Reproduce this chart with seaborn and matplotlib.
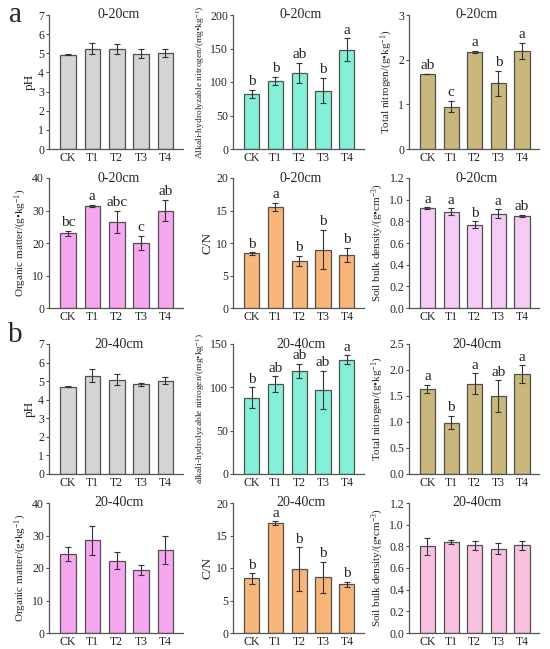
import numpy as np
import pandas as pd
import matplotlib
matplotlib.use("Agg")
import matplotlib.pyplot as plt
import seaborn as sns

sns.set_style("white")
plt.rcParams['font.family'] = ['Liberation Serif', 'DejaVu Serif']
plt.rcParams['mathtext.fontset'] = 'custom'
plt.rcParams['mathtext.rm'] = 'Liberation Serif'
plt.rcParams['mathtext.it'] = 'Liberation Serif:italic'

categories = ["CK", "T1", "T2", "T3", "T4"]

# ---- 0-20 cm ----
ph_a = [4.93, 5.25, 5.22, 4.97, 5.03]
ph_a_sd = [0.03, 0.28, 0.25, 0.23, 0.20]
an_a = [82, 102, 114, 87, 148]
an_a_sd = [6, 6, 15, 19, 17]
an_a_let = ["b", "b", "ab", "b", "a"]
tn_a = [1.68, 0.95, 2.17, 1.47, 2.20]
tn_a_sd = [0.01, 0.13, 0.03, 0.28, 0.18]
tn_a_let = ["ab", "c", "a", "b", "a"]
om_a = [23.0, 31.5, 26.5, 20.0, 30.0]
om_a_sd = [0.7, 0.3, 3.4, 2.3, 3.3]
om_a_let = ["bc", "a", "abc", "c", "ab"]
cn_a = [8.4, 15.6, 7.2, 9.0, 8.2]
cn_a_sd = [0.2, 0.6, 0.8, 3.0, 1.1]
cn_a_let = ["b", "a", "b", "b", "b"]
bd_a = [0.92, 0.89, 0.77, 0.87, 0.85]
bd_a_sd = [0.01, 0.03, 0.03, 0.04, 0.01]
bd_a_let = ["a", "a", "b", "a", "ab"]

# ---- 20-40 cm ----
ph_b = [4.70, 5.30, 5.07, 4.82, 5.02]
ph_b_sd = [0.02, 0.37, 0.30, 0.08, 0.20]
an_b = [88, 104, 119, 97, 132]
an_b_sd = [12, 9, 8, 22, 5]
an_b_let = ["b", "ab", "ab", "ab", "a"]
tn_b = [1.64, 0.99, 1.74, 1.50, 1.92]
tn_b_sd = [0.08, 0.13, 0.20, 0.30, 0.17]
tn_b_let = ["a", "b", "a", "ab", "a"]
om_b = [24.3, 28.5, 22.3, 19.4, 25.6]
om_b_sd = [2.2, 4.5, 2.7, 1.5, 4.3]
cn_b = [8.4, 16.9, 9.8, 8.6, 7.5]
cn_b_sd = [0.8, 0.3, 3.4, 2.4, 0.4]
cn_b_let = ["b", "a", "b", "b", "b"]
bd_b = [0.80, 0.84, 0.81, 0.78, 0.81]
bd_b_sd = [0.08, 0.02, 0.04, 0.05, 0.04]

fig = plt.figure(figsize=(5.5, 6.49), dpi=100)
W, H = 550, 649

col_left = [49, 233, 409]
col_w = [134, 131, 130]
row_top = [15, 178, 344, 503]
row_h = [134, 130, 130, 130]

EDGE = "#505050"

def panel(r, c, vals, sds, color, ylabel, ylim, yticks, title, letters=None,
          fmt=None, ylabel_size=8):
    left = col_left[c] / W
    bottom = 1 - (row_top[r] + row_h[r]) / H
    ax = fig.add_axes([left, bottom, col_w[c] / W, row_h[r] / H])
    df = pd.DataFrame({"cat": categories, "val": vals})
    sns.barplot(data=df, x="cat", y="val", color=color, saturation=1,
                edgecolor=EDGE, linewidth=0.9, width=0.64, ax=ax)
    ax.errorbar(np.arange(len(categories)), vals, yerr=sds, fmt="none",
                ecolor="#333333", elinewidth=0.8, capsize=2.0, capthick=0.8)
    ax.set_xlim(-0.78, 4.72)
    ax.set_ylim(*ylim)
    ax.set_yticks(yticks)
    if fmt:
        ax.set_yticklabels([fmt.format(t) for t in yticks])
    ax.set_xlabel("")
    ax.set_ylabel(ylabel, fontsize=ylabel_size, labelpad=2)
    for s in ["top", "right"]:
        ax.spines[s].set_visible(False)
    for s in ["left", "bottom"]:
        ax.spines[s].set_color("#555555")
        ax.spines[s].set_linewidth(0.9)
    ax.tick_params(axis="y", direction="out", length=2.5, width=0.8,
                   labelsize=8.5, pad=1, color="#555555", left=True)
    ax.tick_params(axis="x", length=0, labelsize=8.5, pad=2)
    ax.text(0.52, 1.0, title, transform=ax.transAxes, ha="center",
            va="center", fontsize=10)
    if letters:
        off = (ylim[1] - ylim[0]) * 0.012
        for i, (v, s, l) in enumerate(zip(vals, sds, letters)):
            ax.text(i, v + s + off, l, ha="center", va="bottom", fontsize=11)
    return ax

GRAY = "#d4d4d4"
AQUA = "#84f0d8"
TAN = "#c9b77b"
PINK = "#f6a6ee"
ORANGE = "#f8b57a"
LAV = "#f6cbf6"
PINK2 = "#f9c2e1"

kg = r"$^{-1}$"
panel(0, 0, ph_a, ph_a_sd, GRAY, "pH", (0, 7), range(0, 8), "0-20cm",
      ylabel_size=9.5)
panel(0, 1, an_a, an_a_sd, AQUA, "Alkali-hydrolyzable nitrogen/(mg•kg" + kg + ")",
      (0, 200), range(0, 201, 50), "0-20cm", an_a_let, ylabel_size=6.8)
panel(0, 2, tn_a, tn_a_sd, TAN, "Total nitrogen/(g•kg" + kg + ")",
      (0, 3), range(0, 4), "0-20cm", tn_a_let)
panel(1, 0, om_a, om_a_sd, PINK, "Organic matter/(g•kg" + kg + ")",
      (0, 40), range(0, 41, 10), "0-20cm", om_a_let)
panel(1, 1, cn_a, cn_a_sd, ORANGE, "C/N", (0, 20), range(0, 21, 5),
      "0-20cm", cn_a_let, ylabel_size=9.5)
panel(1, 2, bd_a, bd_a_sd, LAV, "Soil bulk density/(g•cm" + r"$^{-3}$" + ")",
      (0, 1.2), np.arange(0, 1.21, 0.2), "0-20cm", bd_a_let, fmt="{:.1f}")

panel(2, 0, ph_b, ph_b_sd, GRAY, "pH", (0, 7), range(0, 8), "20-40cm",
      ylabel_size=9.5)
panel(2, 1, an_b, an_b_sd, AQUA, "alkali-hydrolyzable nitrogen/(mg•kg" + kg + ")",
      (0, 150), range(0, 151, 50), "20-40cm", an_b_let, ylabel_size=6.8)
panel(2, 2, tn_b, tn_b_sd, TAN, "Total nitrogen/(g•kg" + kg + ")",
      (0, 2.5), np.arange(0, 2.51, 0.5), "20-40cm", tn_b_let, fmt="{:.1f}")
panel(3, 0, om_b, om_b_sd, PINK, "Organic matter/(g•kg" + kg + ")",
      (0, 40), range(0, 41, 10), "20-40cm")
panel(3, 1, cn_b, cn_b_sd, ORANGE, "C/N", (0, 20), range(0, 21, 5),
      "20-40cm", cn_b_let, ylabel_size=9.5)
panel(3, 2, bd_b, bd_b_sd, PINK2, "Soil bulk density/(g•cm" + r"$^{-3}$" + ")",
      (0, 1.2), np.arange(0, 1.21, 0.2), "20-40cm", fmt="{:.1f}")

fig.text(15 / W, 1 - 15 / H, "a", fontsize=21, ha="center", va="center")
fig.text(15 / W, 1 - 335 / H, "b", fontsize=21, ha="center", va="center")

fig.savefig("out.png", dpi=100)
